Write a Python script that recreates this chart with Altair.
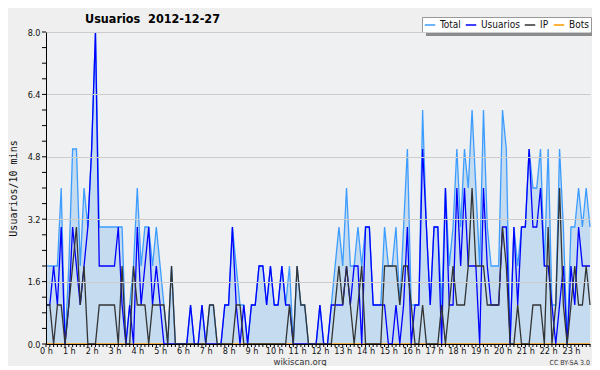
import altair as alt
import pandas as pd

# ---- data (10-minute samples, 0:00 .. 23:50) ----
USUARIOS = [1, 1, 2, 1, 3, 0, 1, 3, 2, 1, 2, 3, 5, 8, 2, 2, 2, 2, 2, 3,
            1, 0, 1, 0, 3, 1, 2, 3, 1, 2, 1, 0, 0, 0, 0, 0, 0, 0, 1, 0,
            0, 1, 0, 0, 0, 0, 0, 1, 1, 3, 1, 0, 1, 0, 1, 1, 2, 2, 1, 2,
            1, 1, 2, 1, 1, 0, 0, 0, 0, 0, 0, 0, 1, 0, 0, 1, 1, 1, 1, 2,
            1, 2, 2, 0, 3, 3, 1, 1, 1, 1, 0, 0, 1, 0, 1, 3, 0, 1, 1, 5,
            3, 1, 3, 3, 0, 4, 1, 1, 4, 2, 4, 2, 2, 2, 0, 4, 2, 1, 1, 1,
            3, 3, 0, 3, 1, 3, 3, 5, 3, 3, 4, 2, 2, 1, 0, 1, 2, 0, 2, 1,
            3, 2, 2, 2]
IP = [1, 1, 0, 1, 1, 0, 1, 2, 3, 1, 2, 0, 0, 0, 1, 1, 1, 1, 1, 0,
      2, 0, 0, 2, 1, 1, 1, 0, 1, 1, 1, 1, 0, 2, 0, 0, 0, 0, 0, 0,
      0, 0, 0, 1, 1, 0, 0, 0, 0, 0, 1, 1, 0, 0, 0, 0, 0, 0, 0, 0,
      0, 0, 0, 0, 1, 0, 2, 1, 1, 0, 0, 0, 0, 0, 0, 0, 1, 2, 1, 2,
      1, 0, 1, 2, 0, 0, 0, 0, 0, 2, 2, 2, 2, 1, 2, 2, 1, 0, 0, 1,
      0, 0, 0, 0, 1, 0, 1, 2, 1, 1, 1, 2, 4, 2, 2, 2, 1, 1, 1, 1,
      3, 2, 0, 0, 1, 0, 0, 0, 1, 1, 1, 0, 3, 0, 1, 4, 1, 0, 1, 2,
      1, 1, 2, 1]
TOTAL = [2, 2, 2, 2, 4, 0, 2, 5, 5, 2, 4, 3, 5, 8, 3, 3, 3, 3, 3, 3,
         3, 0, 1, 2, 4, 2, 3, 3, 2, 3, 2, 1, 0, 2, 0, 0, 0, 0, 1, 0,
         0, 1, 0, 1, 1, 0, 0, 1, 1, 3, 2, 1, 1, 0, 1, 1, 2, 2, 1, 2,
         1, 1, 2, 1, 2, 0, 2, 1, 1, 0, 0, 0, 1, 0, 0, 1, 2, 3, 2, 4,
         2, 2, 3, 2, 3, 3, 1, 1, 1, 3, 2, 2, 3, 1, 3, 5, 1, 1, 1, 6,
         3, 1, 3, 3, 1, 4, 2, 3, 5, 3, 5, 4, 6, 4, 2, 6, 3, 2, 2, 2,
         6, 5, 0, 3, 2, 3, 3, 5, 4, 4, 5, 2, 5, 1, 1, 5, 3, 0, 3, 3,
         4, 3, 4, 3]
BOTS = [0, 0, 0, 0, 0, 0, 0, 0, 0, 0, 0, 0, 0, 0, 0, 0, 0, 0, 0, 0,
        0, 0, 0, 0, 0, 0, 0, 0, 0, 0, 0, 0, 0, 0, 0, 0, 0, 0, 0, 0,
        0, 0, 0, 0, 0, 0, 0, 0, 0, 0, 0, 0, 0, 0, 0, 0, 0, 0, 0, 0,
        0, 0, 0, 0, 0, 0, 0, 0, 0, 0, 0, 0, 0, 0, 0, 0, 0, 0, 0, 0,
        0, 0, 0, 0, 0, 0, 0, 0, 0, 0, 0, 0, 0, 0, 0, 0, 0, 0, 0, 0,
        0, 0, 0, 0, 0, 0, 0, 0, 0, 0, 0, 0, 0, 0, 0, 0, 0, 0, 0, 0,
        0, 0, 0, 0, 0, 0, 0, 0, 0, 0, 0, 0, 0, 0, 0, 0, 0, 0, 0, 0,
        0, 0, 0, 0]

HOURS = list(range(24))
Y_LABELS = [0.0, 1.6, 3.2, 4.8, 6.4, 8.0]
Y_TICKS = [0.0, 0.4, 0.8, 1.2, 1.6, 2.0, 2.4, 2.8, 3.2, 3.6, 4.0, 4.4,
           4.8, 5.2, 5.6, 6.0, 6.4, 6.8, 7.2, 7.6, 8.0]
SERIES = ["Total", "Usuarios", "IP", "Bots"]
COLORS = ["#3d9cff", "#0000ff", "#333333", "#ff9900"]
TITLE = "Usuarios\u00a0\u00a02012-12-27"
Y_TITLE = "Usuarios/10 mins"

n = len(TOTAL)
t = [i / 6 for i in range(n)]
df = pd.DataFrame({"t": t, "Total": TOTAL})
values = {"Total": TOTAL, "Usuarios": USUARIOS, "IP": IP, "Bots": BOTS}
long = pd.DataFrame({
    "t": t * len(SERIES),
    "series": [s for s in SERIES for _ in range(n)],
    "value": [v for s in SERIES for v in values[s]],
})
one = pd.DataFrame({"a": [0]})

FONT = "DejaVu Sans Condensed, DejaVu Sans, sans-serif"
xscale = alt.Scale(domain=[0, (n - 1) / 6], nice=False, zero=False)
yscale = alt.Scale(domain=[0, 8], nice=False)
cscale = alt.Scale(domain=SERIES, range=COLORS)

AX = alt.Axis(
    values=HOURS, labelExpr="datum.value + ' h'", grid=False, ticks=False,
    tickSize=0, labelPadding=2, labelFont=FONT, labelFontSize=9,
    labelColor="#111", domainColor="black", title=None, zindex=1,
    labelFlush=False, labelOverlap=False)
AY = alt.Axis(
    values=Y_LABELS, format=".1f", grid=True, gridColor="#cccccc",
    ticks=False, tickSize=0, labelPadding=6, labelFont=FONT,
    labelFontSize=9, labelColor="#111", domainColor="black",
    title=Y_TITLE, titleFont="DejaVu Sans Mono", titleFontSize=10,
    titleFontWeight="normal", titleColor="#111", titleX=-33, titleY=156,
    titleAngle=270, titleAlign="center", titleBaseline="middle", zindex=1)

area = alt.Chart(df).mark_area(color="#c5dcf0", opacity=1).encode(
    x=alt.X("t:Q", scale=xscale, axis=AX),
    y=alt.Y("Total:Q", scale=yscale, axis=AY),
)

legend = alt.Legend(
    orient="none", legendX=376, legendY=-15, direction="horizontal",
    title=None, symbolType="stroke", symbolSize=110, symbolStrokeWidth=1.5,
    labelFont=FONT, labelFontSize=10, labelColor="#111", fillColor="white",
    strokeColor="#999999", padding=2, columnPadding=1, labelOffset=4,
    values=SERIES,
)


def line(name, with_legend=False):
    return alt.Chart(long).transform_filter(
        alt.datum.series == name
    ).mark_line(strokeWidth=1.3).encode(
        x=alt.X("t:Q", scale=xscale, axis=AX),
        y=alt.Y("value:Q", scale=yscale, axis=AY),
        color=alt.Color("series:N", scale=cscale,
                        legend=legend if with_legend else None),
    )


bots = line("Bots", True)
total = line("Total")
usu = line("Usuarios")
ip = line("IP")

xticks = alt.Chart(df).mark_rule(color="black", strokeWidth=1).encode(
    x=alt.X("t:Q", scale=xscale, axis=AX),
    y=alt.value(312), y2=alt.value(315),
)
yticks = alt.Chart(pd.DataFrame({"v": Y_TICKS})).mark_rule(
    color="black", strokeWidth=1).encode(
    y=alt.Y("v:Q", scale=yscale, axis=AY),
    x=alt.value(-4), x2=alt.value(0),
)

shadow = alt.Chart(one).mark_rect(color="#8c8c8c").encode(
    x=alt.value(380), x2=alt.value(549), y=alt.value(-12), y2=alt.value(4))

title = alt.Chart(one).mark_text(
    text=TITLE, font=FONT, fontSize=12.5, fontWeight="bold", align="left",
    baseline="alphabetic", color="black").encode(
    x=alt.value(39), y=alt.value(-9))
wiki = alt.Chart(one).mark_text(
    text="wikiscan.org", font=FONT, fontSize=9.5, align="center",
    baseline="alphabetic", color="#333").encode(
    x=alt.value(254), y=alt.value(333))
cc = alt.Chart(one).mark_text(
    text="CC BY-SA 3.0", font=FONT, fontSize=7, align="right",
    baseline="alphabetic", color="#333").encode(
    x=alt.value(544), y=alt.value(333))

chart = alt.layer(area, bots, total, usu, ip, xticks, yticks, shadow,
                  title, wiki, cc).properties(
    width=544, height=312,
    autosize=alt.AutoSizeParams(type="none"),
    padding={"left": 38, "top": 24, "right": 2, "bottom": 22},
    background="#efefef",
).configure_view(fill="#eef0f2", stroke=None)

chart.save("out.html", embed_options={"renderer": "svg", "actions": False})
